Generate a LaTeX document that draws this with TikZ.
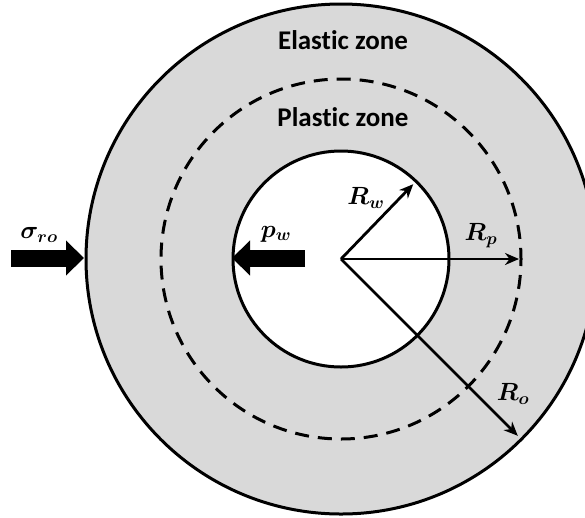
\documentclass[tikz,border=0pt]{standalone}
\usepackage{fontspec}
\usepackage{amsmath,bm}
\usetikzlibrary{calc,arrows.meta}
\newfontfamily\zonefont[Ligatures=NoCommon]{Carlito}
\definecolor{zonegray}{RGB}{217,217,217}

\begin{document}
\begin{tikzpicture}[x=1pt, y=-1pt,
    ring/.style={line width=3pt},
    zone/.style={font=\fontsize{27}{30}\selectfont\zonefont\bfseries},
    sym/.style={font=\fontsize{26}{29}\selectfont},
    radarrow/.style={line width=2.8pt, -{Stealth[length=14pt,width=12pt]}},
    load/.style={line width=17pt, -{Triangle[length=18pt,width=34pt]}}
  ]
  \useasboundingbox (0,0) rectangle (585,517);
  \clip (0,0) rectangle (585,517);
  \fill[white] (0,0) rectangle (585,517);
  \coordinate (O) at (341,259);
  % ---------------- zones ----------------
  \draw[ring, fill=zonegray] (O) circle[radius=255];
  \draw[ring, dash pattern=on 14pt off 9pt, dash phase=7pt] (O) circle[radius=180];
  \draw[ring, fill=white] (O) circle[radius=108];
  \node[zone] (elastic) at (343,40) {Elastic zone};
  \node[zone] (plastic) at (343,117) {Plastic zone};
  % ---------------- radii ----------------
  \coordinate (Rwend) at ($(O)+(-46:104)$);
  \coordinate (Rpend) at ($(O)+(0:178)$);
  \coordinate (Roend) at ($(O)+(45:250)$);
  \draw[radarrow] (O) -- (Rwend);
  \draw[radarrow] (O) -- (Rpend);
  \draw[radarrow] (O) -- (Roend);
  \node[sym] (Rw) at (366,198) {$\bm{R_w}$};
  \node[sym] (Rp) at (481,236) {$\bm{R_p}$};
  \node[sym] (Ro) at (513,394) {$\bm{R_o}$};
  % ---------------- pressures ----------------
  \coordinate (sroback) at (11,258);
  \coordinate (srotip) at (84,258);
  \coordinate (pwback) at (305,258);
  \coordinate (pwtip) at (232,258);
  \draw[load] (sroback) -- (srotip);
  \draw[load] (pwback) -- (pwtip);
  \node[sym] (sro) at (39,235) {$\bm{\sigma_{ro}}$};
  \node[sym] (pw) at (276,234) {$\bm{p_w}$};
\end{tikzpicture}
\end{document}
